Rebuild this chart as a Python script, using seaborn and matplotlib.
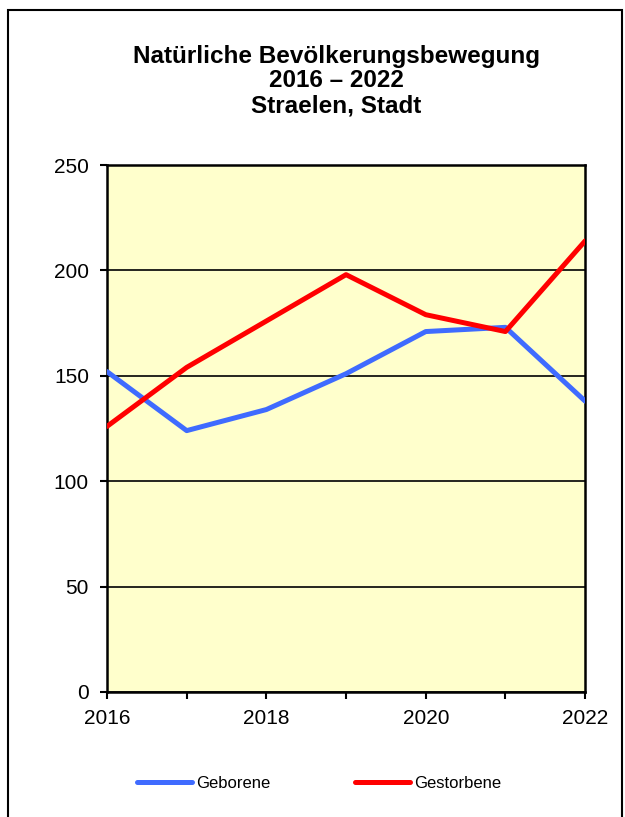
import pandas as pd
import matplotlib
matplotlib.use("Agg")
import matplotlib.pyplot as plt
import seaborn as sns
from matplotlib.patches import Rectangle

# data
jahre = [2016, 2017, 2018, 2019, 2020, 2021, 2022]
geborene = [152, 124, 134, 151, 171, 173, 138]
gestorbene = [126, 154, 176, 198, 179, 171, 214]

df = pd.DataFrame({
    "Jahr": jahre * 2,
    "Anzahl": geborene + gestorbene,
    "Reihe": ["Geborene"] * len(jahre) + ["Gestorbene"] * len(jahre),
})

sns.set_style("white")
plt.rcParams["font.family"] = ["Liberation Sans", "DejaVu Sans"]
plt.rcParams["text.color"] = "black"
plt.rcParams["xtick.color"] = "black"
plt.rcParams["ytick.color"] = "black"

fig = plt.figure(figsize=(6.25, 8.17), dpi=100)
ax = fig.add_axes([0.1712, 0.153, 0.765, 0.645])
ax.set_facecolor("#ffffcc")

# outer frame around the whole chart
fig.patches.append(Rectangle((0.012, -0.01), 0.983, 0.998, transform=fig.transFigure,
                             fill=False, edgecolor="black", linewidth=1.5))

sns.lineplot(data=df, x="Jahr", y="Anzahl", hue="Reihe", ax=ax,
             palette={"Geborene": "#3f6bff", "Gestorbene": "#ff0000"},
             linewidth=3.6, legend=False, zorder=3)

ax.set_xlim(2016, 2022)
ax.set_ylim(0, 250)
ax.set_yticks(range(0, 251, 50))
ax.set_xticks(jahre)
ax.set_xticklabels([str(j) if j % 2 == 0 else "" for j in jahre])
ax.yaxis.grid(True, color="black", linewidth=1.2, zorder=1)
ax.xaxis.grid(False)
ax.tick_params(axis="both", direction="out", length=5, width=1.5, color="black",
               labelsize=15, bottom=True, left=True, labelcolor="black")
ax.tick_params(axis="x", pad=7)
ax.tick_params(axis="y", pad=8)
ax.set_xlabel("")
ax.set_ylabel("")
for s in ax.spines.values():
    s.set_color("black")
    s.set_linewidth(1.8)

fig.text(0.538, 0.901, "Natürliche Bevölkerungsbewegung\n2016 – 2022\nStraelen, Stadt",
         ha="center", va="center", fontsize=17.5, fontweight="bold", linespacing=1.1)

# legend below the chart
fig.legend(handles=[plt.Line2D([], [], color="#3f6bff", lw=3.6, solid_capstyle="round"),
                    plt.Line2D([], [], color="#ff0000", lw=3.6, solid_capstyle="round")],
           labels=["Geborene", "Gestorbene"], loc="center", bbox_to_anchor=(0.511, 0.0416),
           ncol=2, frameon=False, fontsize=12, handlelength=3.3, handletextpad=0.25,
           columnspacing=5.1)

fig.savefig("out.png", dpi=100)
